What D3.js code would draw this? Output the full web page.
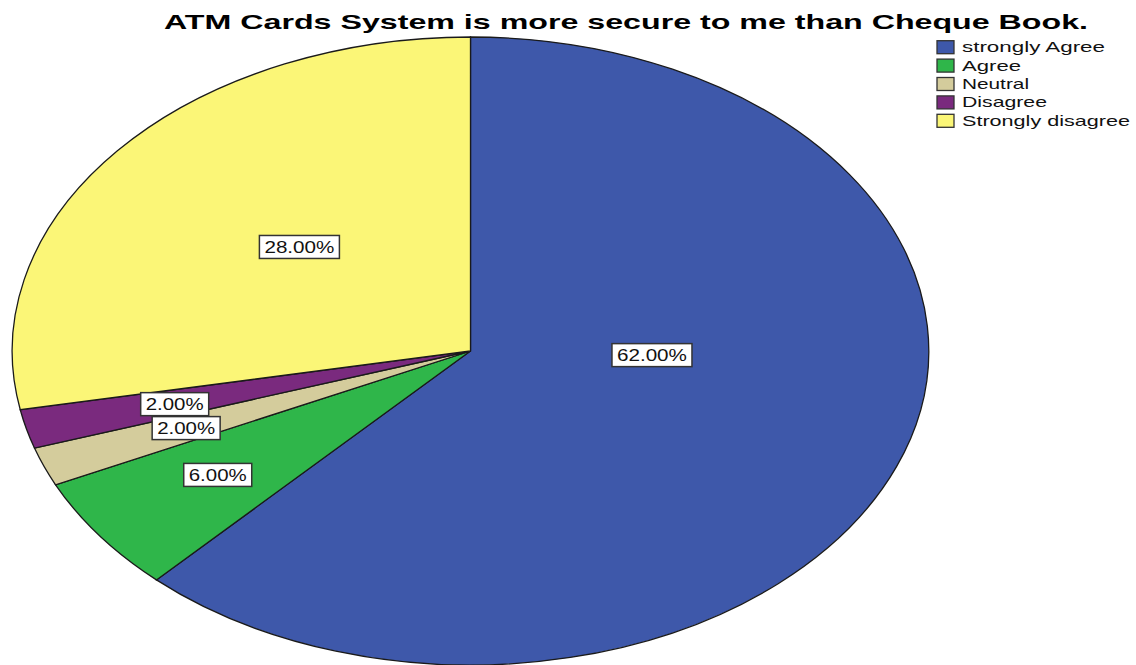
<!DOCTYPE html>
<html>
<head>
<meta charset="utf-8">
<script src="https://cdn.jsdelivr.net/npm/d3@7"></script>
<style>
  html, body { margin: 0; padding: 0; background: #fff; }
  svg { display: block; }
  text { font-family: Arial, "Liberation Sans", sans-serif; }
</style>
</head>
<body>
<svg id="chart" width="1136" height="665"></svg>
<script>
// ---- data ----
const title = "ATM Cards System is more secure to me than Cheque Book.";
const categories = ["strongly Agree", "Agree", "Neutral", "Disagree", "Strongly disagree"];
const percents = [62, 6, 2, 2, 28];
const labels = ["62.00%", "6.00%", "2.00%", "2.00%", "28.00%"];
const colors = ["#3E58AA", "#2FB64A", "#D4CC9C", "#7A2A7E", "#FBF677"];

// ---- layout (not data) ----
const W = 1136, H = 665;
const cx = 470.5, cy = 351, rx = 458.5, ry = 314;
// label placement: radius fraction & angle shift (deg) from the slice mid angle
const labelRadius = [0.396, 0.678, 0.667, 0.667, 0.499];
const labelShift  = [-19.7, 0.4, 0.0, -0.3, 2.0];
const labelWidths = [70, 58, 58, 58, 70];

const svg = d3.select("#chart");

// title
svg.append("text")
  .attr("x", 626).attr("y", 29)
  .attr("text-anchor", "middle")
  .attr("font-weight", "bold")
  .attr("font-size", 21)
  .attr("textLength", 924)
  .attr("lengthAdjust", "spacingAndGlyphs")
  .attr("fill", "#000")
  .text(title);

// pie
const pie = d3.pie().sort(null).value(d => d).startAngle(0).endAngle(2 * Math.PI);
const arcs = pie(percents);
const arc = d3.arc().innerRadius(0).outerRadius(1);

const g = svg.append("g").attr("transform", `translate(${cx},${cy}) scale(${rx},${ry})`);
g.selectAll("path")
  .data(arcs)
  .join("path")
  .attr("d", arc)
  .attr("fill", (d, i) => colors[i])
  .attr("stroke", "#1a1a1a")
  .attr("stroke-width", 1.3)
  .attr("vector-effect", "non-scaling-stroke");

// labels
const lg = svg.append("g");
arcs.forEach((d, i) => {
  const mid = (d.startAngle + d.endAngle) / 2 + labelShift[i] * Math.PI / 180;
  const r = labelRadius[i];
  const x = cx + rx * r * Math.sin(mid);
  const y = cy - ry * r * Math.cos(mid);
  const bw = labelWidths[i] + 10, bh = 23;
  lg.append("rect")
    .attr("x", x - bw / 2).attr("y", y - bh / 2)
    .attr("width", bw).attr("height", bh)
    .attr("fill", "#fff")
    .attr("stroke", "#333")
    .attr("stroke-width", 1.5);
  lg.append("text")
    .attr("x", x).attr("y", y + 6)
    .attr("text-anchor", "middle")
    .attr("font-size", 16.5)
    .attr("textLength", labelWidths[i])
    .attr("lengthAdjust", "spacingAndGlyphs")
    .attr("fill", "#111")
    .text(labels[i]);
});

// legend
const legY = d3.scaleBand().domain(categories).range([38, 130]).padding(0);
const leg = svg.append("g");
const legWidths = [143, 59, 67, 85, 168];
categories.forEach((c, i) => {
  const yc = legY(c) + legY.bandwidth() / 2;
  leg.append("rect")
    .attr("x", 937).attr("y", yc - 6.5)
    .attr("width", 17).attr("height", 13)
    .attr("fill", colors[i])
    .attr("stroke", "#333")
    .attr("stroke-width", 1.3);
  leg.append("text")
    .attr("x", 962).attr("y", yc + 5)
    .attr("font-size", 15)
    .attr("textLength", legWidths[i])
    .attr("lengthAdjust", "spacingAndGlyphs")
    .attr("fill", "#111")
    .text(c);
});
</script>
</body>
</html>
